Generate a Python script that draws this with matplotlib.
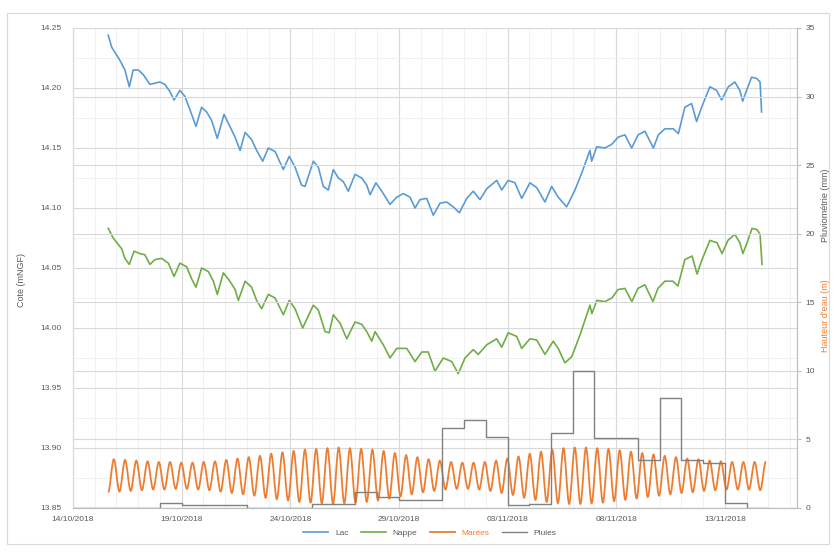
import matplotlib
matplotlib.use("Agg")
import matplotlib.pyplot as plt
import matplotlib.dates as mdates
from matplotlib.ticker import MultipleLocator, FormatStrFormatter
from matplotlib.path import Path
from matplotlib.patches import PathPatch
from matplotlib.lines import Line2D
import pandas as pd

plt.rcParams['font.family'] = ['Liberation Sans', 'DejaVu Sans']

origin = pd.Timestamp('2018-10-14')

# Lac - cote (mNGF), time in days since 14/10/2018
lac_days = [1.62, 1.78, 2.16, 2.39, 2.59, 2.77, 3.01, 3.24, 3.54, 3.77, 4.00, 4.23, 4.46, 4.65, 4.92,
            5.15, 5.38, 5.66, 5.92, 6.15, 6.38, 6.64, 6.95, 7.22, 7.46, 7.69, 7.92, 8.22, 8.45, 8.73,
            8.99, 9.30, 9.68, 9.95, 10.22, 10.52, 10.68, 11.06, 11.29, 11.52, 11.75, 11.98, 12.21, 12.44,
            12.67, 12.98, 13.29, 13.52, 13.67, 13.94, 14.21, 14.59, 14.90, 15.20, 15.51, 15.74, 15.97,
            16.28, 16.58, 16.89, 17.20, 17.50, 17.78, 18.12, 18.42, 18.73, 19.04, 19.50, 19.73, 20.03,
            20.34, 20.65, 21.03, 21.34, 21.72, 22.03, 22.33, 22.72, 23.10, 23.41, 23.79, 23.87, 24.10,
            24.48, 24.79, 25.09, 25.40, 25.71, 26.01, 26.32, 26.71, 26.94, 27.24, 27.63, 27.86, 28.16,
            28.47, 28.70, 28.93, 29.31, 29.62, 29.85, 30.16, 30.46, 30.69, 30.82, 31.00, 31.23, 31.46,
            31.62, 31.69]
lac_cote = [14.244, 14.234, 14.223, 14.215, 14.201, 14.215, 14.215, 14.211, 14.203, 14.204, 14.205,
            14.203, 14.197, 14.190, 14.198, 14.193, 14.182, 14.168, 14.184, 14.180, 14.173, 14.158,
            14.178, 14.168, 14.159, 14.148, 14.163, 14.157, 14.148, 14.139, 14.150, 14.147, 14.132,
            14.143, 14.134, 14.119, 14.118, 14.139, 14.134, 14.118, 14.115, 14.132, 14.125, 14.122,
            14.114, 14.128, 14.125, 14.119, 14.111, 14.121, 14.114, 14.103, 14.109, 14.112, 14.109,
            14.100, 14.107, 14.108, 14.094, 14.104, 14.105, 14.101, 14.096, 14.108, 14.114, 14.107,
            14.116, 14.123, 14.115, 14.123, 14.121, 14.108, 14.121, 14.117, 14.105, 14.118, 14.109,
            14.101, 14.115, 14.129, 14.148, 14.139, 14.151, 14.150, 14.153, 14.159, 14.161, 14.150,
            14.161, 14.164, 14.150, 14.161, 14.166, 14.166, 14.162, 14.184, 14.187, 14.172, 14.184,
            14.201, 14.198, 14.190, 14.201, 14.205, 14.198, 14.189, 14.198, 14.209, 14.208, 14.205,
            14.180]

# Nappe - cote (mNGF)
nappe_days = [1.62, 1.85, 2.24, 2.39, 2.59, 2.81, 3.08, 3.31, 3.54, 3.77, 4.08, 4.39, 4.65, 4.92,
              5.23, 5.46, 5.66, 5.92, 6.23, 6.46, 6.64, 6.92, 7.22, 7.46, 7.61, 7.92, 8.22, 8.45, 8.68,
              8.99, 9.30, 9.68, 9.95, 10.22, 10.57, 11.06, 11.29, 11.60, 11.79, 11.98, 12.29, 12.60,
              12.98, 13.29, 13.52, 13.75, 13.90, 14.28, 14.59, 14.90, 15.36, 15.74, 16.05, 16.35, 16.66,
              17.04, 17.43, 17.73, 18.04, 18.42, 18.65, 19.04, 19.50, 19.73, 20.03, 20.42, 20.65, 21.03,
              21.34, 21.72, 22.10, 22.33, 22.64, 22.95, 23.33, 23.79, 23.88, 24.11, 24.48, 24.80, 25.08,
              25.40, 25.72, 26.00, 26.32, 26.69, 26.92, 27.24, 27.61, 27.84, 28.16, 28.49, 28.72, 28.95,
              29.31, 29.64, 29.87, 30.14, 30.46, 30.69, 30.83, 31.02, 31.25, 31.48, 31.62, 31.71]
nappe_cote = [14.083, 14.075, 14.066, 14.058, 14.053, 14.064, 14.062, 14.061, 14.053, 14.057, 14.058,
              14.054, 14.043, 14.054, 14.051, 14.041, 14.034, 14.050, 14.047, 14.039, 14.028, 14.046,
              14.039, 14.032, 14.023, 14.039, 14.034, 14.023, 14.016, 14.028, 14.025, 14.011, 14.023,
              14.016, 14.000, 14.019, 14.015, 13.997, 13.996, 14.011, 14.004, 13.991, 14.005, 14.003,
              13.997, 13.989, 13.997, 13.986, 13.975, 13.983, 13.983, 13.972, 13.980, 13.980, 13.964,
              13.975, 13.972, 13.962, 13.975, 13.982, 13.978, 13.986, 13.991, 13.984, 13.996, 13.993,
              13.983, 13.991, 13.990, 13.978, 13.989, 13.983, 13.971, 13.976, 13.994, 14.019, 14.012,
              14.023, 14.022, 14.025, 14.032, 14.033, 14.022, 14.033, 14.036, 14.022, 14.033, 14.039,
              14.039, 14.035, 14.057, 14.060, 14.045, 14.057, 14.073, 14.071, 14.062, 14.073, 14.078,
              14.071, 14.062, 14.071, 14.083, 14.082, 14.078, 14.053]

# Marees - low / high water heights (m), one pair per tide
maree_lw = [1.15, 1.20, 1.25, 1.30, 1.35, 1.35, 1.40, 1.40, 1.35, 1.30, 1.20, 1.10, 1.00, 0.90, 0.75,
            0.65, 0.55, 0.45, 0.40, 0.35, 0.30, 0.35, 0.40, 0.45, 0.55, 0.70, 0.85, 1.00, 1.15, 1.25,
            1.35, 1.40, 1.40, 1.35, 1.25, 1.10, 0.95, 0.75, 0.60, 0.45, 0.35, 0.30, 0.30, 0.35, 0.40,
            0.50, 0.60, 0.70, 0.80, 0.90, 1.00, 1.10, 1.15, 1.25, 1.30, 1.35, 1.35, 1.35, 1.30]
maree_hw = [3.55, 3.50, 3.45, 3.40, 3.35, 3.35, 3.30, 3.30, 3.35, 3.40, 3.50, 3.60, 3.70, 3.80, 3.95,
            4.05, 4.15, 4.25, 4.30, 4.35, 4.40, 4.35, 4.30, 4.25, 4.15, 4.00, 3.85, 3.70, 3.55, 3.45,
            3.35, 3.30, 3.30, 3.35, 3.45, 3.60, 3.75, 3.95, 4.10, 4.25, 4.35, 4.40, 4.40, 4.35, 4.30,
            4.20, 4.10, 4.00, 3.90, 3.80, 3.70, 3.60, 3.55, 3.45, 3.40, 3.35, 3.35, 3.35, 3.40]
maree_start = 1.62      # days
maree_step = 0.2587     # days between low and high water

# Pluies - daily rainfall (mm), from 14/10/2018
pluie_mm = [0.0, 0.0, 0.0, 0.0, 0.4, 0.2, 0.2, 0.2, 0.0, 0.0, 0.0, 0.3, 0.3, 1.2, 0.8, 0.6,
            0.6, 5.8, 6.4, 5.2, 0.2, 0.3, 5.5, 10.0, 5.1, 5.1, 3.5, 8.0, 3.5, 3.3, 0.4, 0.0]

tick_dates = ['2018-10-14', '2018-10-19', '2018-10-24', '2018-10-29', '2018-11-03', '2018-11-08', '2018-11-13']

# colours
c_lac = '#5B9BD5'
c_nappe = '#70AD47'
c_maree = '#ED7D31'
c_pluie = '#808080'
c_text = '#595959'
c_grid = '#D9D9D9'

lac_t = origin + pd.to_timedelta(lac_days, unit='D')
nappe_t = origin + pd.to_timedelta(nappe_days, unit='D')
maree_vals = []
for lw, hw in zip(maree_lw, maree_hw):
    maree_vals += [lw, hw]
maree_t = origin + pd.to_timedelta([maree_start + i * maree_step for i in range(len(maree_vals))], unit='D')
pluie_t = origin + pd.to_timedelta(list(range(len(pluie_mm) + 1)), unit='D')
pluie_v = pluie_mm + [pluie_mm[-1]]

fig = plt.figure(figsize=(8.36, 5.54), dpi=100)
ax = fig.add_axes([73 / 836, 1 - 508 / 554, (797 - 73) / 836, (508 - 28) / 554])
ax2 = ax.twinx()

ax.plot(lac_t, lac_cote, color=c_lac, lw=1.2, label='Lac')
ax.plot(nappe_t, nappe_cote, color=c_nappe, lw=1.2, label='Nappe')
ax2.plot(pluie_t, pluie_v, color=c_pluie, lw=1.0, drawstyle='steps-post', label='Pluies')

# tide curve: smooth bezier through each low / high water
tx = mdates.date2num(maree_t)
verts = [(tx[0], maree_vals[0])]
codes = [Path.MOVETO]
for i in range(len(tx) - 1):
    dt = tx[i + 1] - tx[i]
    verts += [(tx[i] + dt / 3, maree_vals[i]), (tx[i + 1] - dt / 3, maree_vals[i + 1]),
              (tx[i + 1], maree_vals[i + 1])]
    codes += [Path.CURVE4] * 3
ax2.add_patch(PathPatch(Path(verts, codes), fill=False, ec=c_maree, lw=1.3))
maree_handle = Line2D([], [], color=c_maree, lw=1.3)

# axes
ax.set_xlim(origin, origin + pd.Timedelta(days=33.32))
ax.set_ylim(13.85, 14.25)
ax2.set_ylim(0, 35)
ax.set_xticks(pd.to_datetime(tick_dates))
ax.xaxis.set_major_formatter(mdates.DateFormatter('%d/%m/%Y'))
ax.xaxis.set_minor_locator(mdates.DayLocator())
ax.yaxis.set_major_locator(MultipleLocator(0.05))
ax.yaxis.set_major_formatter(FormatStrFormatter('%.2f'))
ax.yaxis.set_minor_locator(MultipleLocator(0.025))
ax2.yaxis.set_major_locator(MultipleLocator(5))

ax.grid(True, which='major', axis='both', color=c_grid, lw=0.8)
ax.grid(True, which='minor', axis='both', color='#EFEFEF', lw=0.6)
ax2.grid(True, which='major', axis='y', color=c_grid, lw=0.8)
ax.set_axisbelow(True)
ax2.set_axisbelow(True)

for a in (ax, ax2):
    a.spines['top'].set_visible(False)
    a.spines['left'].set_color(c_grid)
    a.spines['right'].set_color('#BFBFBF')
    a.spines['bottom'].set_color('#BFBFBF')
ax.tick_params(axis='both', which='both', labelsize=6, colors=c_text, length=0, pad=6)
ax.tick_params(axis='y', pad=8)
ax2.tick_params(axis='y', which='major', labelsize=6, colors=c_text, length=3, direction='out',
                color='#BFBFBF', pad=3)
ax2.tick_params(axis='y', which='minor', length=0)

fig.text(22 / 836, 1 - 280 / 554, 'Cote (mNGF)', rotation=90, ha='center', va='center',
         fontsize=6.5, color=c_text)
fig.text(826 / 836, 1 - 205 / 554, 'Pluviométrie (mm)', rotation=90, ha='center', va='center',
         fontsize=6.5, color=c_text)
fig.text(826 / 836, 1 - 316 / 554, "Hauteur d'eau (m)", rotation=90, ha='center', va='center',
         fontsize=6.5, color=c_maree)

# legend in Excel order
h1, l1 = ax.get_legend_handles_labels()
h2, l2 = ax2.get_legend_handles_labels()
handles = h1 + [maree_handle] + h2
labels = l1 + ['Marées'] + l2
leg = fig.legend(handles, labels, loc='center', ncol=4, frameon=False, fontsize=6,
                 bbox_to_anchor=(430 / 836, 1 - 533 / 554), handlelength=3, columnspacing=1.5)
for t in leg.get_texts():
    t.set_color(c_text)
leg.get_texts()[2].set_color(c_maree)

# chart border
fig.patches.append(plt.Rectangle((7 / 836, 1 - 544 / 554), (829 - 7) / 836, (544 - 13) / 554,
                                 transform=fig.transFigure, fill=False, ec=c_grid, lw=0.8))

fig.savefig('out.png', dpi=100)
